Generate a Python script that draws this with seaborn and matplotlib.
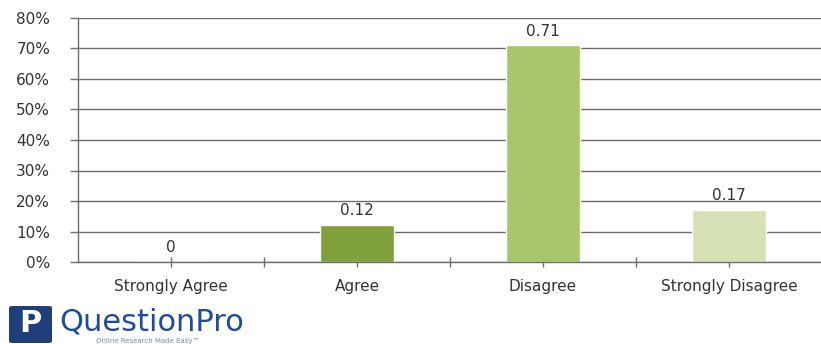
import matplotlib
matplotlib.use("Agg")
import matplotlib.pyplot as plt
import seaborn as sns
import pandas as pd
from matplotlib.patches import FancyBboxPatch
from matplotlib.ticker import MultipleLocator, FuncFormatter

categories = ["Strongly Agree", "Agree", "Disagree", "Strongly Disagree"]
values = [0.0, 0.12, 0.71, 0.17]
value_labels = ["0", "0.12", "0.71", "0.17"]
bar_colors = ["#8aaa48", "#7fa03a", "#a9c76a", "#d6e2b6"]

sns.set_theme(style="white")
plt.rcParams["font.family"] = ["DejaVu Sans"]

df = pd.DataFrame({"cat": categories, "val": values})

fig = plt.figure(figsize=(8.21, 3.44), dpi=100)
ax = fig.add_axes([78/821, 1-262/344, 744/821, 244/344])

sns.barplot(data=df, x="cat", y="val", hue="cat", palette=bar_colors,
            width=0.4, legend=False, ax=ax, saturation=1)

ax.set_ylim(0, 0.8)
ax.set_xlim(-0.5, 3.5)
ax.yaxis.set_major_locator(MultipleLocator(0.1))
ax.yaxis.set_major_formatter(FuncFormatter(lambda v, p: f"{round(v*100)}%"))
ax.grid(axis="y", color="#6e6e6e", linewidth=1.0)
ax.set_axisbelow(True)
for s in ["top", "right"]:
    ax.spines[s].set_visible(False)
ax.spines["left"].set_color("#6e6e6e")
ax.spines["bottom"].set_color("#6e6e6e")
ax.spines["left"].set_linewidth(1.0)
ax.spines["bottom"].set_linewidth(1.0)
ax.set_xlabel("")
ax.set_ylabel("")

ax.set_xticks(range(len(categories)))
ax.set_xticklabels(categories)
ax.set_xticks([0.5, 1.5, 2.5], minor=True)
ax.tick_params(axis="x", which="both", direction="inout", length=7, width=1,
               color="#6e6e6e", bottom=True, labelsize=11, labelcolor="#333333", pad=9)
ax.tick_params(axis="y", direction="out", length=6, width=1, color="#6e6e6e",
               left=True, labelsize=11, labelcolor="#333333", pad=14)

for i, (v, lab) in enumerate(zip(values, value_labels)):
    ax.annotate(lab, (i, v), xytext=(0, 5), textcoords="offset points",
                ha="center", va="bottom", fontsize=11, color="#333333")

# logo
icon = FancyBboxPatch((9/821, 1/344), 43/821, 37/344, boxstyle="round,pad=0,rounding_size=0.005",
                      transform=fig.transFigure, facecolor="#1e3f7a", edgecolor="none")
fig.patches.append(icon)
fig.text(30.5/821, 20/344, "P", color="white", fontsize=22, fontweight="bold",
         ha="center", va="center")
fig.text(59/821, 14/344, "QuestionPro", color="#1f4e96", fontsize=22,
         ha="left", va="baseline")
fig.text(96/821, 0/344, "Online Research Made Easy\u2122", color="#7a8aa8", fontsize=5,
         ha="left", va="bottom")

fig.savefig("out.png", dpi=100)
